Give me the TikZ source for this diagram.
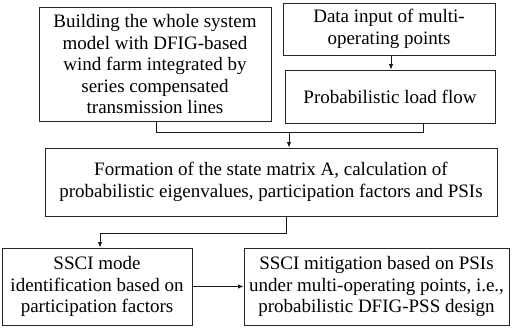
\documentclass[tikz,border=0pt]{standalone}
\usepackage{fontspec}
\setmainfont{Liberation Serif}
\newfontfamily\boxfont{Liberation Serif}
\usetikzlibrary{arrows.meta,calc}

\begin{document}
\begin{tikzpicture}[x=1pt,y=-1pt,
  flowbox/.style={draw=black!85,line width=0.9pt,align=center,inner sep=0pt,
    font=\boxfont\fontsize{19}{21.5}\selectfont},
  link/.style={draw=black!90,line width=0.9pt},
  arr/.style={link,-{Latex[length=5.5pt,width=4.5pt]}}]
\useasboundingbox (0,0) rectangle (532,327);

% process boxes
\node[flowbox,minimum width=232pt,minimum height=114pt] (model) at (155,64)
  {Building the whole system\\model with DFIG-based\\wind farm integrated by\\series compensated\\transmission lines};
\node[flowbox,minimum width=212pt,minimum height=52pt] (data) at (389,29)
  {Data input of multi-\\operating points};
\node[flowbox,minimum width=210pt,minimum height=53pt] (plf) at (390,96.5)
  {Probabilistic load flow};
\node[flowbox,minimum width=452pt,minimum height=68pt] (state) at (271,182)
  {Formation of the state matrix A, calculation of\\probabilistic eigenvalues, participation factors and PSIs};
\node[flowbox,minimum width=190pt,minimum height=77pt] (ident) at (97,286.5)
  {SSCI mode\\identification based on\\participation factors};
\node[flowbox,minimum width=265pt,minimum height=77pt] (mitig) at (376.5,286.5)
  {SSCI mitigation based on PSIs\\under multi-operating points, i.e.,\\probabilistic DFIG-PSS design};

% junction points
\coordinate (j1) at (156,132);
\coordinate (j2) at (423,132);
\coordinate (j3) at (289,132);
\coordinate (k1) at (286,233);
\coordinate (k2) at (100,233);

% connectors
\draw[arr] (data.south -| 391,0) -- (plf.north -| 391,0);
\draw[link] (model.south -| j1) -- (j1) -- (j2) -- (plf.south -| j2);
\draw[arr] (j3) -- (state.north -| j3);
\draw[link] (state.south -| k1) -- (k1) -- (k2);
\draw[arr] (k2) -- (ident.north -| k2);
\draw[arr] (ident.east) -- (mitig.west);
\end{tikzpicture}
\end{document}
